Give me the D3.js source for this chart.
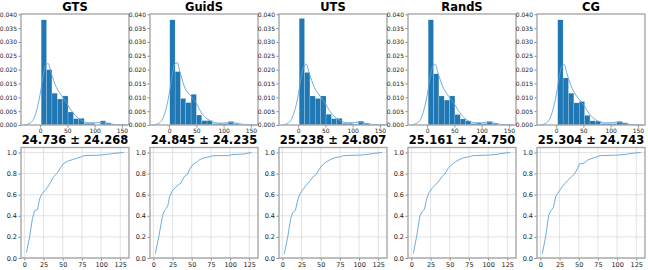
<!DOCTYPE html>
<html>
<head>
<meta charset="utf-8">
<script src="https://cdn.jsdelivr.net/npm/d3@7"></script>
<style>
  body { margin: 0; background: #fff; }
  text { font-family: "DejaVu Sans", sans-serif; }
</style>
</head>
<body>
<div id="chart"></div>
<script>
const panels = ["GTS", "GuidS", "UTS", "RandS", "CG"];
const meanLabels = ["24.736 ± 24.268", "24.845 ± 24.235", "25.238 ± 24.807", "25.161 ± 24.750", "25.304 ± 24.743"];

// histogram: first bin edge, bin width, density per bin
const binStart = [2, 1.3, 2, 2, 3];
const binWidth = [9.85, 9.75, 9.85, 9.8, 9.85];
const histGTS   = [0.038, 0.020, 0.0115, 0.0094, 0.0105, 0.0047, 0.0023, 0.0024, 0.0006, 0.0006, 0.0000, 0.0015, 0.0008];
const histGuidS = [0.038, 0.0193, 0.0096, 0.0081, 0.0111, 0.0036, 0.0016, 0.0016, 0.0005, 0.0005, 0.0005, 0.0013, 0.0005];
const histUTS   = [0.0385, 0.019, 0.0105, 0.0096, 0.0105, 0.0039, 0.0023, 0.0024, 0.0006, 0.0006, 0.0003, 0.0014, 0.0006];
const histRandS = [0.038, 0.0185, 0.0105, 0.009, 0.0105, 0.0038, 0.0022, 0.0015, 0.0005, 0.0007, 0.0005, 0.0013, 0.0006];
const histCG    = [0.038, 0.017, 0.0115, 0.008, 0.0085, 0.0035, 0.0015, 0.0014, 0.0005, 0.0005, 0.0005, 0.0013, 0.0008];

// kde curve read at these x positions
const kdeX     = [-30, -20, -10, 0, 5, 10, 15, 20, 30, 40, 50, 60, 70, 80, 90, 100, 110, 120, 130, 140, 150, 160];
const kdeGTS   = [0, 0.0005, 0.003, 0.011, 0.017, 0.0215, 0.0222, 0.019, 0.0135, 0.0105, 0.0075, 0.0045, 0.0025, 0.0012, 0.0008, 0.0008, 0.0009, 0.0007, 0.0004, 0.0001, 0.00003, 0];
const kdeGuidS = [0, 0.0005, 0.003, 0.011, 0.017, 0.022, 0.0225, 0.019, 0.013, 0.0105, 0.0078, 0.0042, 0.0022, 0.0011, 0.0007, 0.0007, 0.0009, 0.0008, 0.0004, 0.0001, 0.00003, 0];
const kdeUTS   = [0, 0.0005, 0.003, 0.0105, 0.0165, 0.021, 0.022, 0.019, 0.0135, 0.0105, 0.0077, 0.0045, 0.0025, 0.0013, 0.0008, 0.0008, 0.001, 0.0008, 0.0004, 0.0001, 0.00003, 0];
const kdeRandS = [0, 0.0005, 0.003, 0.0105, 0.0165, 0.021, 0.022, 0.0188, 0.0133, 0.0103, 0.0076, 0.0044, 0.0023, 0.0011, 0.0008, 0.0008, 0.001, 0.0008, 0.0004, 0.0001, 0.00003, 0];
const kdeCG    = [0, 0.0005, 0.003, 0.0105, 0.0165, 0.021, 0.0218, 0.0185, 0.013, 0.0098, 0.0074, 0.0043, 0.0022, 0.0012, 0.0008, 0.0008, 0.001, 0.0008, 0.0004, 0.0001, 0.00003, 0];

// empirical cdf points [value, fraction]
const ecdfGTS = [[2.6,0.05],[6.9,0.20],[10.4,0.37],[13.4,0.45],[17.1,0.46],[19.9,0.56],[22.9,0.61],[27.2,0.64],[33.7,0.71],[38,0.77],[42.4,0.80],[46.6,0.85],[51,0.895],[57.4,0.92],[66,0.94],[74.7,0.96],[78,0.97],[98.4,0.975],[111.4,0.985],[115,0.99],[129.5,1.0]];
const ecdfGuidS = [[2.5,0.04],[7,0.2],[12,0.40],[14.5,0.45],[17,0.47],[19,0.50],[21,0.58],[25,0.64],[29,0.67],[32,0.69],[36,0.71],[40,0.77],[44,0.79],[48,0.85],[52,0.89],[57,0.91],[60,0.93],[66,0.95],[74,0.96],[78,0.97],[98,0.97],[102,0.98],[118,0.985],[128,1.0]];
const ecdfUTS = [[2.5,0.04],[7,0.2],[11,0.38],[13.5,0.43],[17,0.45],[20,0.55],[23,0.61],[27,0.65],[31,0.69],[35,0.72],[40,0.77],[44,0.79],[48,0.84],[52,0.88],[57,0.91],[62,0.93],[68,0.95],[76,0.96],[80,0.97],[100,0.975],[110,0.98],[118,0.99],[130,1.0]];
const ecdfRandS = [[2.5,0.04],[7,0.21],[11,0.40],[14,0.44],[17,0.46],[20,0.56],[23,0.62],[27,0.66],[31,0.69],[35,0.72],[40,0.77],[44,0.80],[48,0.85],[52,0.88],[57,0.91],[62,0.93],[68,0.95],[76,0.96],[80,0.97],[100,0.975],[110,0.98],[117,0.99],[129,1.0]];
const ecdfCG = [[2.6,0.04],[7,0.21],[11,0.41],[14,0.45],[17,0.48],[20,0.58],[25,0.64],[30,0.69],[35,0.73],[42,0.78],[45,0.80],[51,0.89],[57,0.90],[62,0.93],[70,0.95],[78,0.97],[100,0.975],[110,0.98],[117,0.99],[131,1.0]];

const hists = [histGTS, histGuidS, histUTS, histRandS, histCG];
const kdes = [kdeGTS, kdeGuidS, kdeUTS, kdeRandS, kdeCG];
const ecdfs = [ecdfGTS, ecdfGuidS, ecdfUTS, ecdfRandS, ecdfCG];

const histXTicks = [0, 50, 100, 150];
const histYTicks = [0, 0.005, 0.010, 0.015, 0.020, 0.025, 0.030, 0.035, 0.040];
const cdfXTicks = [0, 25, 50, 75, 100, 125];
const cdfYTicks = [0, 0.2, 0.4, 0.6, 0.8, 1.0];

const W = 648, H = 270;
const pitch = 129, left0 = 21, pw = 108;
const topY0 = 14, topY1 = 125;
const botY0 = 147.5, botY1 = 258;
const frameColor = "#a8a8a8";
const barColor = "#1f77b4";
const lineColor = "#5fa3dc";

const svg = d3.select("#chart").append("svg")
  .attr("width", W)
  .attr("height", H);

function styleAxis(g, fs) {
  g.select(".domain").remove();
  g.selectAll(".tick line").attr("stroke", "#555").attr("stroke-width", 0.7);
  g.selectAll(".tick text").attr("fill", "#222").style("font-size", fs + "px").style("font-family", "DejaVu Sans");
}

function frame(g, w, h) {
  g.append("rect")
    .attr("x", 0).attr("y", 0)
    .attr("width", w).attr("height", h)
    .attr("fill", "none")
    .attr("stroke", frameColor)
    .attr("stroke-width", 1.4);
}

panels.forEach((name, i) => {
  const px = left0 + i * pitch;

  // ---- top: histogram + kde
  const h1 = topY1 - topY0;
  const gt = svg.append("g").attr("transform", "translate(" + px + "," + topY0 + ")");
  const x = d3.scaleLinear().domain([-35, 163]).range([0, pw]);
  const y = d3.scaleLinear().domain([0, 0.0401]).range([h1, 0]);

  const bins = hists[i].map((v, k) => ({
    x0: binStart[i] + k * binWidth[i],
    x1: binStart[i] + (k + 1) * binWidth[i],
    v: v
  }));

  gt.selectAll(".bar")
    .data(bins)
    .enter().append("rect")
    .attr("class", "bar")
    .attr("x", d => x(d.x0))
    .attr("y", d => y(d.v))
    .attr("width", d => x(d.x1) - x(d.x0))
    .attr("height", d => h1 - y(d.v))
    .attr("fill", barColor)
    .attr("stroke", "#ffffff")
    .attr("stroke-opacity", 0.45)
    .attr("stroke-width", 0.4);

  const kdeLine = d3.line()
    .x((d, k) => x(kdeX[k]))
    .y(d => y(d))
    .curve(d3.curveMonotoneX);

  gt.append("path")
    .datum(kdes[i])
    .attr("d", kdeLine)
    .attr("fill", "none")
    .attr("stroke", lineColor)
    .attr("stroke-width", 0.9);

  gt.append("g")
    .attr("transform", "translate(0," + h1 + ")")
    .call(d3.axisBottom(x).tickValues(histXTicks).tickSize(2.5).tickPadding(1.5).tickFormat(d3.format("d")))
    .call(g => styleAxis(g, 6));

  gt.append("g")
    .call(d3.axisLeft(y).tickValues(histYTicks).tickSize(2.5).tickPadding(1.5).tickFormat(d3.format(".3f")))
    .call(g => styleAxis(g, 6));

  frame(gt, pw, h1);

  svg.append("text")
    .attr("x", px + pw / 2)
    .attr("y", 11)
    .attr("text-anchor", "middle")
    .style("font-size", "11.5px")
    .style("font-weight", "bold")
    .text(name);

  // ---- bottom: ecdf
  const h2 = botY1 - botY0;
  const gb = svg.append("g").attr("transform", "translate(" + px + "," + botY0 + ")");
  const x2 = d3.scaleLinear().domain([-4.4, 136.4]).range([0, pw]);
  const y2 = d3.scaleLinear().domain([0, 1.047]).range([h2, 0]);

  gb.append("g").selectAll("line")
    .data(cdfXTicks)
    .enter().append("line")
    .attr("x1", d => x2(d)).attr("x2", d => x2(d))
    .attr("y1", 0).attr("y2", h2)
    .attr("stroke", "#dcdcdc").attr("stroke-width", 0.8);

  gb.append("g").selectAll("line")
    .data(cdfYTicks)
    .enter().append("line")
    .attr("x1", 0).attr("x2", pw)
    .attr("y1", d => y2(d)).attr("y2", d => y2(d))
    .attr("stroke", "#dcdcdc").attr("stroke-width", 0.8);

  gb.append("path")
    .datum(ecdfs[i])
    .attr("d", d3.line().x(d => x2(d[0])).y(d => y2(d[1])))
    .attr("fill", "none")
    .attr("stroke", lineColor)
    .attr("stroke-width", 0.9);

  gb.append("g")
    .attr("transform", "translate(0," + h2 + ")")
    .call(d3.axisBottom(x2).tickValues(cdfXTicks).tickSize(2.5).tickPadding(1.5).tickFormat(d3.format("d")))
    .call(g => styleAxis(g, 6.5));

  gb.append("g")
    .call(d3.axisLeft(y2).tickValues(cdfYTicks).tickSize(2.5).tickPadding(1.5).tickFormat(d3.format(".1f")))
    .call(g => styleAxis(g, 6.5));

  frame(gb, pw, h2);

  svg.append("text")
    .attr("x", px + pw / 2)
    .attr("y", 144)
    .attr("text-anchor", "middle")
    .style("font-size", "11.5px")
    .style("font-weight", "bold")
    .text(meanLabels[i]);
});
</script>
</body>
</html>
